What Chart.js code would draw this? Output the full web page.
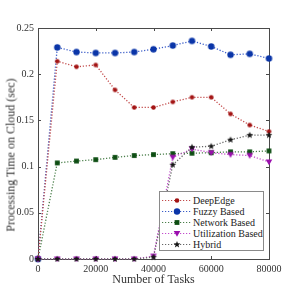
<!DOCTYPE html>
<html>
<head>
<meta charset="utf-8">
<script src="https://cdn.jsdelivr.net/npm/chart.js@4"></script>
<style>
  body { margin: 0; background: #fff; }
  #wrap { position: relative; width: 298px; height: 298px; }
  #legend {
    position: absolute; left: 159px; top: 191px; width: 103px; height: 58px;
    border: 1px solid #8a8a8a; background: #fff;
    font-family: "Liberation Serif", serif; font-size: 10px; color: #222;
  }
  .row { position: absolute; left: 0; height: 11px; line-height: 11px; white-space: nowrap; }
  .row canvas { position: absolute; left: 1px; top: 0; }
  .row span { position: absolute; left: 33px; top: 0; }
  #ytitle {
    position: absolute; left: 11px; top: 155px; white-space: nowrap;
    transform: translate(-50%, -50%) rotate(-90deg);
    font-family: "Liberation Serif", serif; font-size: 12px; color: #333;
  }
</style>
</head>
<body>
<div id="wrap">
  <canvas id="c" width="298" height="298"></canvas>
  <div id="ytitle">Processing Time on Cloud (sec)</div>
  <div id="legend"></div>
</div>
<script>
// data
const tasks = [0, 6667, 13333, 20000, 26667, 33333, 40000, 46667, 53333, 60000, 66667, 73333, 80000];
const deepEdge    = [0, 0.214, 0.208, 0.210, 0.183, 0.164, 0.164, 0.170, 0.175, 0.175, 0.157, 0.145, 0.138];
const fuzzyBased  = [0, 0.229, 0.224, 0.223, 0.223, 0.224, 0.227, 0.231, 0.236, 0.230, 0.221, 0.222, 0.217];
const networkBased = [0, 0.104, 0.106, 0.1075, 0.110, 0.112, 0.113, 0.114, 0.1145, 0.115, 0.116, 0.116, 0.117];
const utilizationBased = [0, 0, 0, 0, 0, 0, 0.003, 0.110, 0.119, 0.115, 0.113, 0.112, 0.105];
const hybrid      = [0, 0, 0, 0, 0, 0, 0.002, 0.102, 0.121, 0.122, 0.129, 0.134, 0.134];

const xTicks = [0, 20000, 40000, 60000, 80000];
const yTicks = [0, 0.05, 0.1, 0.15, 0.2, 0.25];

const seriesNames = ['DeepEdge', 'Fuzzy Based', 'Network Based', 'Utilization Based', 'Hybrid'];
const seriesData = [deepEdge, fuzzyBased, networkBased, utilizationBased, hybrid];
const markColors = ['#a31515', '#0a35a8', '#0d4d12', '#9b0fae', '#151515'];
const lineColors = ['#c24a4a', '#3a5cc8', '#4a7f4a', '#c24ccc', '#666666'];
const markers = ['circle', 'circle', 'rect', 'tri', 'star'];
const sizes = [2.3, 3.2, 2.4, 3.0, 3.6];
const drawOrder = [2, 3, 4, 1, 0];

function drawMarker(ctx, kind, x, y, r, color) {
    ctx.fillStyle = color;
    ctx.beginPath();
    if (kind === 'circle') {
        ctx.arc(x, y, r, 0, Math.PI * 2);
    } else if (kind === 'rect') {
        ctx.rect(x - r, y - r, 2 * r, 2 * r);
    } else if (kind === 'tri') {
        ctx.moveTo(x - r * 1.1, y - r * 0.8);
        ctx.lineTo(x + r * 1.1, y - r * 0.8);
        ctx.lineTo(x, y + r * 1.1);
        ctx.closePath();
    } else {
        for (let i = 0; i < 10; i++) {
            const rr = i % 2 === 0 ? r : r * 0.42;
            const a = -Math.PI / 2 + i * Math.PI / 5;
            if (i === 0) ctx.moveTo(x + rr * Math.cos(a), y + rr * Math.sin(a));
            else ctx.lineTo(x + rr * Math.cos(a), y + rr * Math.sin(a));
        }
        ctx.closePath();
    }
    ctx.fill();
}

function markerImage(i) {
    const cv = document.createElement('canvas');
    const s = Math.ceil(sizes[i] * 2 + 4);
    cv.width = s; cv.height = s;
    drawMarker(cv.getContext('2d'), markers[i], s / 2, s / 2, sizes[i], markColors[i]);
    return cv;
}

const datasets = seriesNames.map((name, i) => ({
    label: name,
    data: tasks.map((t, k) => ({ x: t, y: seriesData[i][k] })),
    borderColor: lineColors[i],
    backgroundColor: markColors[i],
    borderWidth: 1.3,
    borderDash: [1.2, 1.8],
    pointStyle: markerImage(i),
    pointRadius: sizes[i],
    tension: 0,
    clip: false,
    order: drawOrder[i]
}));

// frame + inward ticks, matlab style
const framePlugin = {
    id: 'frame',
    beforeDatasetsDraw(chart) {
        const { ctx, chartArea: a, scales } = chart;
        ctx.save();
        ctx.strokeStyle = '#4a4a4a';
        ctx.lineWidth = 1;
        ctx.strokeRect(a.left + 0.5, a.top + 0.5, a.right - a.left, a.bottom - a.top);
        ctx.beginPath();
        xTicks.forEach(v => {
            const px = Math.round(scales.x.getPixelForValue(v)) + 0.5;
            ctx.moveTo(px, a.bottom); ctx.lineTo(px, a.bottom - 3);
            ctx.moveTo(px, a.top); ctx.lineTo(px, a.top + 3);
        });
        yTicks.forEach(v => {
            const py = Math.round(scales.y.getPixelForValue(v)) + 0.5;
            ctx.moveTo(a.left, py); ctx.lineTo(a.left + 3, py);
            ctx.moveTo(a.right, py); ctx.lineTo(a.right - 3, py);
        });
        ctx.stroke();
        ctx.restore();
    }
};

const serif = "'Liberation Serif', 'Times New Roman', serif";

new Chart(document.getElementById('c'), {
    type: 'line',
    data: { datasets: datasets },
    options: {
        responsive: false,
        animation: false,
        layout: { padding: { top: 28, right: 29, left: 0, bottom: 11 } },
        plugins: { legend: { display: false }, tooltip: { enabled: false } },
        scales: {
            x: {
                type: 'linear',
                min: 0, max: 80000,
                afterFit: s => { s.height = 28; },
                afterBuildTicks: s => { s.ticks = xTicks.map(v => ({ value: v })); },
                grid: { display: false, drawTicks: false },
                border: { display: false },
                ticks: {
                    padding: 4,
                    color: '#333',
                    font: { family: serif, size: 10 },
                    maxRotation: 0,
                    callback: v => String(v)
                },
                title: {
                    display: true, text: 'Number of Tasks', color: '#333',
                    font: { family: serif, size: 12 }, padding: { top: 1, bottom: 0 }
                }
            },
            y: {
                min: 0, max: 0.25,
                afterFit: s => { s.width = 38; },
                afterBuildTicks: s => { s.ticks = yTicks.map(v => ({ value: v })); },
                grid: { display: false, drawTicks: false },
                border: { display: false },
                ticks: {
                    padding: 4,
                    color: '#333',
                    font: { family: serif, size: 10 },
                    callback: v => String(Math.round(v * 100) / 100)
                }
            }
        }
    },
    plugins: [framePlugin]
});

// legend box, drawn as html
const legend = document.getElementById('legend');
seriesNames.forEach((name, i) => {
    const row = document.createElement('div');
    row.className = 'row';
    row.style.top = (3 + i * 11) + 'px';
    const cv = document.createElement('canvas');
    cv.width = 30; cv.height = 11;
    const g = cv.getContext('2d');
    g.strokeStyle = lineColors[i];
    g.lineWidth = 1.2;
    g.setLineDash([1.2, 1.8]);
    g.beginPath(); g.moveTo(1, 5.5); g.lineTo(30, 5.5); g.stroke();
    drawMarker(g, markers[i], 16, 5.5, sizes[i], markColors[i]);
    const sp = document.createElement('span');
    sp.textContent = name;
    row.appendChild(cv);
    row.appendChild(sp);
    legend.appendChild(row);
});
</script>
</body>
</html>
